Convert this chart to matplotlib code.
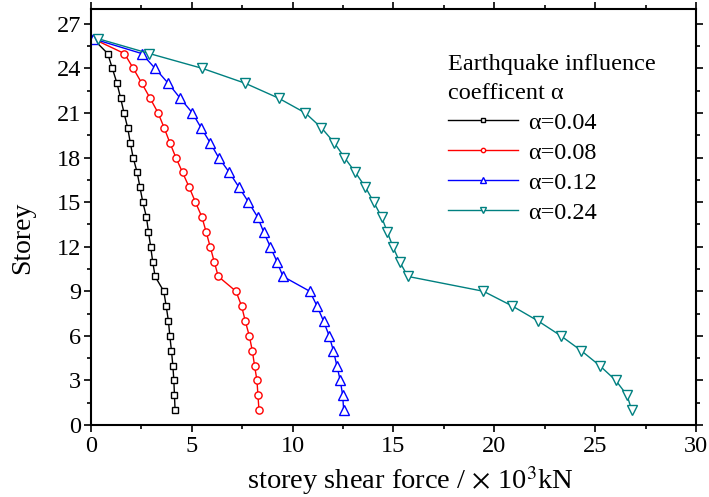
import numpy as np
import matplotlib
matplotlib.use('Agg')
import matplotlib.pyplot as plt
from matplotlib.ticker import MultipleLocator

plt.rcParams['font.family'] = ['Liberation Serif', 'DejaVu Serif']
plt.rcParams['mathtext.fontset'] = 'stix'

# data (storey 1 .. 26)
storey = list(range(1, 27))
v_004 = [4.17, 4.14, 4.11, 4.06, 3.99, 3.91, 3.84, 3.73, 3.61, 3.18, 3.06, 2.96, 2.85,
         2.75, 2.57, 2.43, 2.29, 2.09, 1.95, 1.82, 1.64, 1.47, 1.29, 1.06, 0.83, 0.10]
v_008 = [8.33, 8.28, 8.23, 8.11, 8.00, 7.85, 7.65, 7.47, 7.19, 6.31, 6.11, 5.91, 5.71,
         5.50, 5.18, 4.87, 4.54, 4.21, 3.91, 3.63, 3.33, 2.93, 2.52, 2.10, 1.66, 0.10]
v_012 = [12.53, 12.48, 12.36, 12.19, 12.02, 11.81, 11.53, 11.21, 10.85, 9.52, 9.22, 8.89, 8.56,
         8.26, 7.81, 7.34, 6.86, 6.33, 5.91, 5.46, 5.03, 4.42, 3.83, 3.18, 2.52, 0.10]
v_024 = [26.81, 26.58, 26.02, 25.22, 24.31, 23.30, 22.17, 20.90, 19.46, 15.71, 15.30, 14.97, 14.69,
         14.41, 14.02, 13.61, 13.11, 12.57, 12.06, 11.43, 10.63, 9.30, 7.65, 5.53, 2.90, 0.35]
labels = ['α=0.04', 'α=0.08', 'α=0.12', 'α=0.24']

fig = plt.figure(figsize=(7.09, 4.97), dpi=100)
ax = fig.add_axes([0.1283, 0.1449, 0.8534, 0.8370])

ax.plot(v_004, storey, color='black', lw=1, marker='s', ms=4.2, mfc='white', mew=1, label=labels[0])
ax.plot(v_008, storey, color='red', lw=1, marker='o', ms=5.2, mfc='white', mew=1, label=labels[1])
ax.plot(v_012, storey, color='blue', lw=1, marker='^', ms=6.5, mfc='white', mew=1, label=labels[2])
ax.plot(v_024, storey, color='#008080', lw=1, marker='v', ms=6.5, mfc='white', mew=1, label=labels[3])

ax.set_xlim(0, 30)
ax.set_ylim(0, 28)
ax.xaxis.set_major_locator(MultipleLocator(5))
ax.xaxis.set_minor_locator(MultipleLocator(2.5))
ax.yaxis.set_major_locator(MultipleLocator(3))
ax.yaxis.set_minor_locator(MultipleLocator(1.5))
ax.tick_params(which='both', direction='out', top=True, right=True, labelsize=17.5, width=1.2)
ax.tick_params(which='major', length=5)
ax.tick_params(which='minor', length=3)
ax.tick_params(axis='x', pad=3)
ax.tick_params(axis='y', pad=2)
for s in ax.spines.values():
    s.set_linewidth(1.5)

ax.set_ylabel('Storey', fontsize=20)
ax.set_xlabel(r'storey shear force / $\times$ 10$^3$kN', fontsize=20.5)
ax.xaxis.set_label_coords(0.527, -0.094)
ax.yaxis.set_label_coords(-0.092, 0.45)

leg = ax.legend(loc='upper left', bbox_to_anchor=(0.57, 0.92), frameon=False,
                title='Earthquake influence\ncoefficent α', title_fontsize=17.5, fontsize=17.5,
                alignment='left', handlelength=2.9, handletextpad=0.4, labelspacing=0.33,
                borderpad=0, markerscale=0.6)
leg.get_title().set_linespacing(1.45)

fig.savefig('out.png', dpi=100)
